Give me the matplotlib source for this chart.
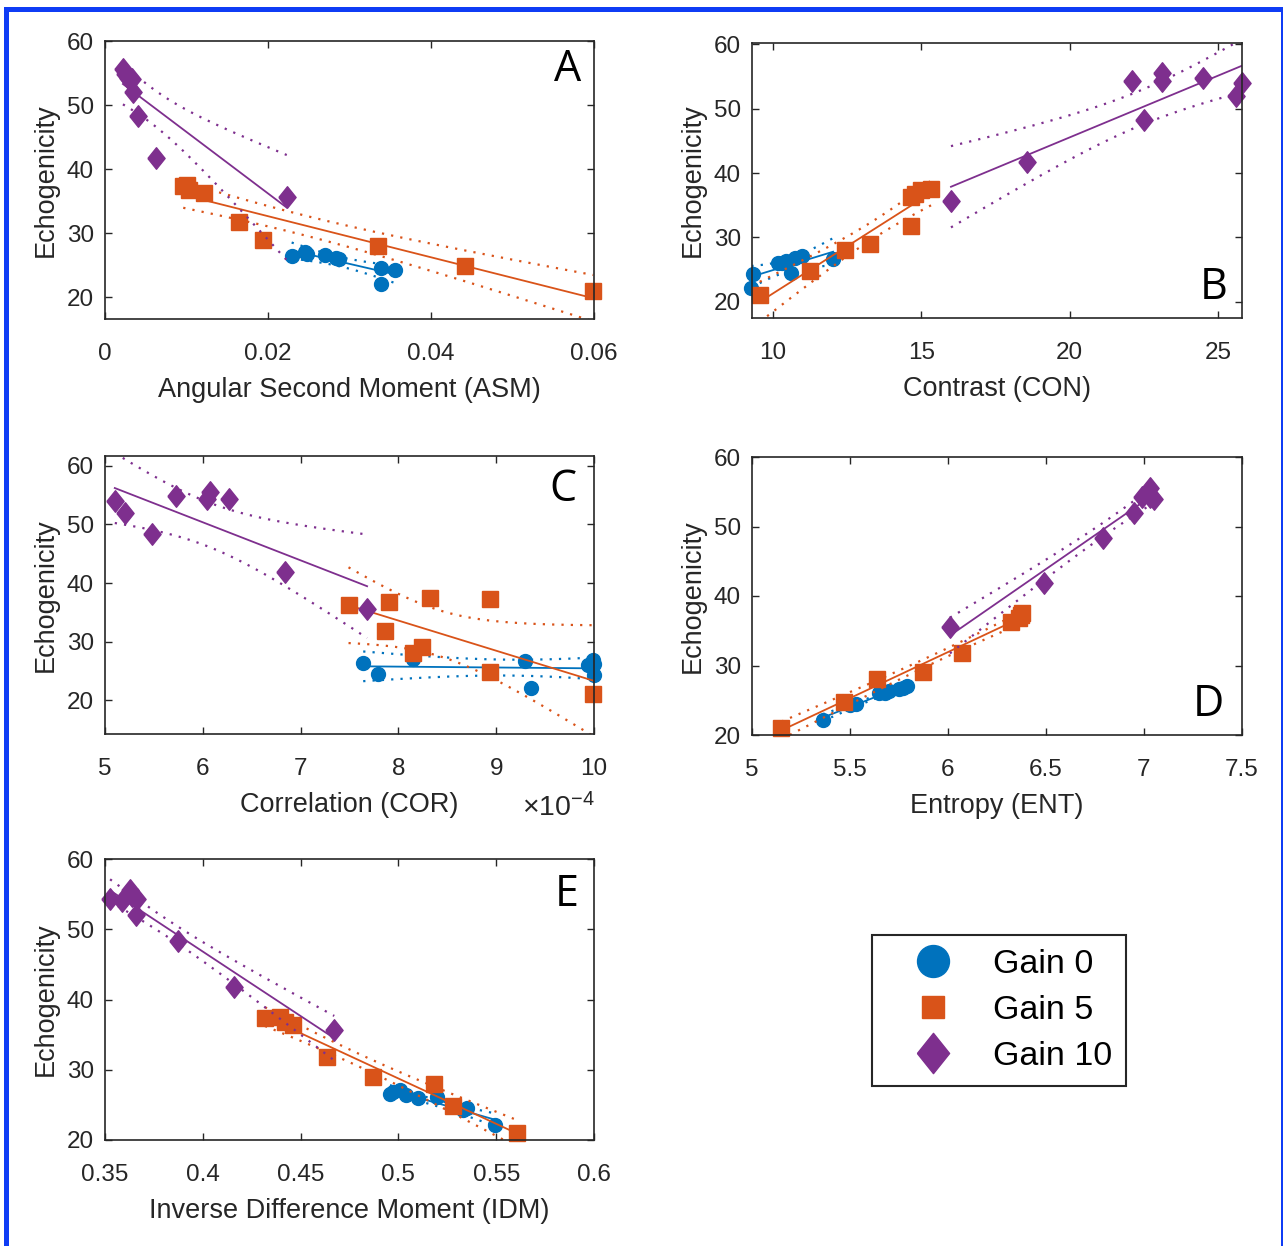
import numpy as np
import matplotlib
matplotlib.use("Agg")
import matplotlib.pyplot as plt
from matplotlib.lines import Line2D
from matplotlib.patches import Rectangle
from matplotlib.ticker import FuncFormatter, FixedLocator

# ---------------- data ----------------
groups = ["Gain 0", "Gain 5", "Gain 10"]
echo_g0 = [27.1, 26.8, 26.6, 26.4, 26.1, 26.0, 24.5, 24.3, 22.1]
echo_g5 = [37.5, 37.3, 36.8, 36.3, 31.8, 29.0, 28.0, 24.8, 21.0]
echo_g10 = [55.6, 54.8, 54.3, 54.3, 54.0, 52.0, 48.3, 41.8, 35.6]

asm_g0 = [0.0245, 0.0248, 0.0270, 0.0229, 0.0284, 0.0287, 0.0339, 0.0356, 0.0339]
asm_g5 = [0.0100, 0.0096, 0.0103, 0.0121, 0.0164, 0.0194, 0.0335, 0.0442, 0.0599]
asm_g10 = [0.0022, 0.0025, 0.0028, 0.0030, 0.0033, 0.0034, 0.0041, 0.0063, 0.0223]

con_g0 = [10.97, 10.74, 12.03, 10.46, 10.18, 10.30, 10.63, 9.34, 9.28]
con_g5 = [15.34, 15.00, 14.80, 14.67, 14.67, 13.27, 12.42, 11.25, 9.56]
con_g10 = [23.1, 24.5, 22.1, 23.1, 25.8, 25.6, 22.5, 18.55, 16.0]

cor_g0 = [8.15e-4, 9.99e-4, 9.29e-4, 7.64e-4, 10.0e-4, 9.94e-4, 7.79e-4, 10.0e-4, 9.36e-4]
cor_g5 = [8.32e-4, 8.94e-4, 7.90e-4, 7.49e-4, 7.86e-4, 8.24e-4, 8.15e-4, 8.94e-4, 9.99e-4]
cor_g10 = [6.07e-4, 5.73e-4, 6.04e-4, 6.27e-4, 5.10e-4, 5.20e-4, 5.48e-4, 6.84e-4, 7.68e-4]

ent_g0 = [5.79, 5.77, 5.75, 5.70, 5.65, 5.68, 5.53, 5.50, 5.36]
ent_g5 = [6.38, 6.37, 6.36, 6.32, 6.07, 5.87, 5.64, 5.47, 5.15]
ent_g10 = [7.03, 7.02, 6.99, 7.03, 7.05, 6.95, 6.79, 6.49, 6.01]

idm_g0 = [0.5008, 0.4970, 0.4957, 0.5040, 0.5196, 0.5102, 0.5350, 0.5330, 0.5494]
idm_g5 = [0.4395, 0.4318, 0.4420, 0.4460, 0.4633, 0.4872, 0.5184, 0.5278, 0.5604]
idm_g10 = [0.3628, 0.3640, 0.3526, 0.3662, 0.3585, 0.3660, 0.3871, 0.4160, 0.4672]

xlabels = ["Angular Second Moment (ASM)", "Contrast (CON)", "Correlation (COR)",
           "Entropy (ENT)", "Inverse Difference Moment (IDM)"]
panel_letters = ["A", "B", "C", "D", "E"]
ylabel = "Echogenicity"
cor_scale_text = r"$\times10^{-4}$"

xticks_A = [0, 0.02, 0.04, 0.06]
xticks_B = [10, 15, 20, 25]
xticks_C = [5e-4, 6e-4, 7e-4, 8e-4, 9e-4, 10e-4]
xticks_D = [5, 5.5, 6, 6.5, 7, 7.5]
xticks_E = [0.35, 0.4, 0.45, 0.5, 0.55, 0.6]
yticks = [20, 30, 40, 50, 60]

# ---------------- style ----------------
colors = ["#0072BD", "#D95319", "#7E2F8E"]
axcol = "#262626"
T975_DF7 = 2.365
diamond = [(-0.4, 0.0), (0.0, 0.5), (0.4, 0.0), (0.0, -0.5), (-0.4, 0.0)]
markers = ["o", "s", diamond]
msizes = [10, 12, 15.5]

plt.rcParams["font.family"] = ["Liberation Sans", "DejaVu Sans"]
plt.rcParams["mathtext.fontset"] = "custom"
plt.rcParams["mathtext.rm"] = "Liberation Sans"
plt.rcParams["mathtext.it"] = "Liberation Sans"

W, H = 1287, 1246
fig = plt.figure(figsize=(W / 100, H / 100), dpi=100)
fig.patch.set_facecolor("white")


def rect(l, r, t, b):
    return [l / W, 1 - b / H, (r - l) / W, (b - t) / H]


panels = [
    dict(pos=rect(105, 594, 41, 319), xs=[asm_g0, asm_g5, asm_g10], xlim=(0, 0.06),
         ylim=(16.6, 60), xt=xticks_A, xtl=["0", "0.02", "0.04", "0.06"], let=(0.947, 0.896)),
    dict(pos=rect(752, 1242, 43, 318), xs=[con_g0, con_g5, con_g10], xlim=(9.3, 25.8),
         ylim=(17.5, 60.2), xt=xticks_B, xtl=["10", "15", "20", "25"], let=(0.943, 0.109)),
    dict(pos=rect(105, 594, 456, 734), xs=[cor_g0, cor_g5, cor_g10], xlim=(5e-4, 10e-4),
         ylim=(14.2, 61.7), xt=xticks_C, xtl=None, let=(0.937, 0.878)),
    dict(pos=rect(752, 1242, 457, 735), xs=[ent_g0, ent_g5, ent_g10], xlim=(5, 7.5),
         ylim=(20, 60), xt=xticks_D, xtl=["5", "5.5", "6", "6.5", "7", "7.5"], let=(0.931, 0.108)),
    dict(pos=rect(105, 594, 859, 1140), xs=[idm_g0, idm_g5, idm_g10], xlim=(0.35, 0.6),
         ylim=(20, 60), xt=xticks_E, xtl=["0.35", "0.4", "0.45", "0.5", "0.55", "0.6"], let=(0.945, 0.872)),
]
ys = [echo_g0, echo_g5, echo_g10]


def fit_band(x, y):
    x = np.asarray(x, float)
    y = np.asarray(y, float)
    n = len(x)
    b, a = np.polyfit(x, y, 1)
    xs = np.linspace(x.min(), x.max(), 200)
    yh = a + b * xs
    s = np.sqrt(np.sum((y - (a + b * x)) ** 2) / (n - 2))
    sxx = np.sum((x - x.mean()) ** 2)
    half = T975_DF7 * s * np.sqrt(1.0 / n + (xs - x.mean()) ** 2 / sxx)
    return xs, yh, yh - half, yh + half


for i, p in enumerate(panels):
    ax = fig.add_axes(p["pos"])
    for g in range(3):
        x = p["xs"][g]
        y = ys[g]
        ax.plot(x, y, linestyle="none", marker=markers[g], ms=msizes[g],
                color=colors[g], mec=colors[g], mfc=colors[g], clip_on=False)
        xs, yh, lo, hi = fit_band(x, y)
        ax.plot(xs, yh, "-", color=colors[g], lw=1.3)
        ax.plot(xs, lo, color=colors[g], lw=1.6, linestyle=(0, (1, 3.2)))
        ax.plot(xs, hi, color=colors[g], lw=1.6, linestyle=(0, (1, 3.2)))
    ax.set_xlim(*p["xlim"])
    ax.set_ylim(*p["ylim"])
    ax.xaxis.set_major_locator(FixedLocator(p["xt"]))
    ax.yaxis.set_major_locator(FixedLocator(yticks))
    if p["xtl"] is not None:
        ax.set_xticklabels(p["xtl"])
    else:
        ax.xaxis.set_major_formatter(FuncFormatter(lambda v, _: f"{v * 1e4:g}"))
        ax.text(0.928, -0.265, cor_scale_text, transform=ax.transAxes, ha="center",
                va="center", fontsize=20.5, color=axcol)
    ax.tick_params(direction="in", top=True, right=True, length=5, width=1,
                   labelsize=17.5, labelcolor=axcol, color=axcol)
    ax.tick_params(axis="x", pad=17)
    ax.tick_params(axis="y", pad=8)
    for sp in ax.spines.values():
        sp.set_color(axcol)
        sp.set_linewidth(1.2)
    ax.set_xlabel(xlabels[i], fontsize=19.5, color=axcol, labelpad=9)
    ax.set_ylabel(ylabel, fontsize=19.5, color=axcol, labelpad=6)
    ax.text(p["let"][0], p["let"][1], panel_letters[i], transform=ax.transAxes,
            ha="center", va="center", fontsize=31, family=["Open Sans", "DejaVu Sans"],
            color="black")

handles = [Line2D([], [], linestyle="none", marker=markers[g], color=colors[g],
                  ms=[23, 16, 29][g]) for g in range(3)]
leg = fig.legend(handles, groups, loc="upper left",
                 bbox_to_anchor=(872 / W, 1 - 935 / H), fontsize=24.5,
                 frameon=True, fancybox=False, edgecolor=axcol, framealpha=1,
                 handletextpad=0.36, labelspacing=0.45, borderpad=0.4,
                 handlelength=2.8, borderaxespad=0)
leg.get_frame().set_linewidth(1.5)

# blue frame around the figure
bc = "#0F3CF5"
fig.add_artist(Rectangle((4 / W, 0), 5 / W, 1 - 7 / H, transform=fig.transFigure,
                         color=bc, lw=0))
fig.add_artist(Rectangle((4 / W, 1 - 12 / H), (1283 - 4) / W, 5 / H, transform=fig.transFigure,
                         color=bc, lw=0))
fig.add_artist(Rectangle((1281 / W, 0), 2 / W, 1 - 7 / H, transform=fig.transFigure,
                         color=bc, lw=0))

fig.savefig("out.png", dpi=100)
